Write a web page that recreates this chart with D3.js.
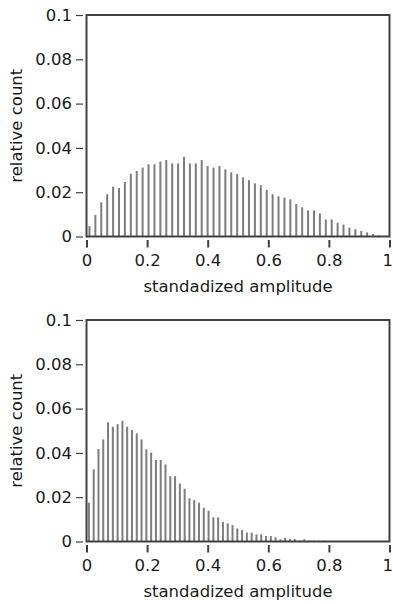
<!DOCTYPE html>
<html lang="en">
<head>
<meta charset="utf-8">
<title>Amplitude histograms</title>
<script src="https://d3js.org/d3.v7.min.js"></script>
<style>
  body { margin: 0; background: #fff; }
  svg { display: block; }
  text { font-family: "DejaVu Sans", sans-serif; fill: #1a1a1a; }
</style>
</head>
<body>
<div id="chart"></div>
<script>
// relative count per bin (50 bins each)
var topCounts = [
  0.0047, 0.0097, 0.0154, 0.0191, 0.0225, 0.0219, 0.0246, 0.0283, 0.0296, 0.0311,
  0.0326, 0.0326, 0.0338, 0.0345, 0.0330, 0.0330, 0.0360, 0.0330, 0.0330, 0.0345,
  0.0318, 0.0311, 0.0318, 0.0303, 0.0290, 0.0282, 0.0267, 0.0254, 0.0240, 0.0232,
  0.0210, 0.0191, 0.0181, 0.0175, 0.0168, 0.0147, 0.0132, 0.0118, 0.0118, 0.0104,
  0.0077, 0.0077, 0.0062, 0.0054, 0.0040, 0.0033, 0.0025, 0.0019, 0.0011, 0.0004
]
var bottomCounts = [
  0.0175, 0.0326, 0.0417, 0.0461, 0.0538, 0.0518, 0.0530, 0.0545, 0.0518, 0.0503,
  0.0488, 0.0461, 0.0416, 0.0401, 0.0368, 0.0368, 0.0348, 0.0295, 0.0295, 0.0262,
  0.0238, 0.0195, 0.0187, 0.0175, 0.0152, 0.0139, 0.0109, 0.0109, 0.0089, 0.0082,
  0.0074, 0.0059, 0.0052, 0.0040, 0.0040, 0.0032, 0.0032, 0.0025, 0.0025, 0.0019,
  0.0010, 0.0017, 0.0011, 0.0011, 0.0004, 0.0010, 0.0004, 0.0004, 0.0004, 0.0004
]
// bin widths (in standardized amplitude units)
var topBinWidth = 0.0195
var bottomBinWidth = 0.0158

var xTicks = [0, 0.2, 0.4, 0.6, 0.8, 1]
var yTicks = [0, 0.02, 0.04, 0.06, 0.08, 0.1]
var xTitle = "standadized amplitude"
var yTitle = "relative count"

var w = 393
var h = 604

var svg = d3.select("#chart")
  .append("svg")
  .attr("width", w)
  .attr("height", h)

var xScale = d3.scaleLinear().domain([0, 1]).range([86.5, 389.5])
var fmt = function(d) { return d === 0 ? "0" : String(+d.toFixed(2)) }

function drawPanel(counts, binWidth, top) {
  var plotH = 221.5
  var yScale = d3.scaleLinear().domain([0, 0.1]).range([top + plotH, top])
  var g = svg.append("g")

  // bars
  g.selectAll("rect.bar")
    .data(counts)
    .enter()
    .append("rect")
    .attr("class", "bar")
    .attr("x", function(d, i) { return xScale(binWidth * (i + 0.5)) - 1 })
    .attr("width", 2)
    .attr("y", function(d) { return yScale(d) })
    .attr("height", function(d) { return yScale(0) - yScale(d) })
    .attr("fill", "#7d7d7d")

  // frame
  g.append("rect")
    .attr("x", xScale(0))
    .attr("y", yScale(0.1))
    .attr("width", xScale(1) - xScale(0))
    .attr("height", yScale(0) - yScale(0.1))
    .attr("fill", "none")
    .attr("stroke", "#404040")
    .attr("stroke-width", 2)

  // y axis, ticks sit a little off the frame
  var yAxis = g.append("g")
    .attr("transform", "translate(" + (xScale(0) - 3.5) + ",0)")
    .call(d3.axisLeft(yScale).tickValues(yTicks).tickFormat(fmt).tickSize(7).tickPadding(4))
  yAxis.select(".domain").remove()
  yAxis.selectAll(".tick line").attr("stroke", "#404040").attr("stroke-width", 1.2)
  yAxis.selectAll("text").attr("font-size", "16.5px").attr("font-family", null).attr("fill", "#1a1a1a")

  // x axis
  var xAxis = g.append("g")
    .attr("transform", "translate(0," + (yScale(0) + 3.5) + ")")
    .call(d3.axisBottom(xScale).tickValues(xTicks).tickFormat(fmt).tickSize(7.5).tickPadding(7))
  xAxis.select(".domain").remove()
  xAxis.selectAll(".tick line").attr("stroke", "#404040").attr("stroke-width", 2)
  xAxis.selectAll("text").attr("font-size", "16.5px").attr("font-family", null).attr("fill", "#1a1a1a")
  // keep the "1" inside the page edge
  xAxis.selectAll(".tick text")
    .filter(function(d) { return d === 1 })
    .attr("text-anchor", "end")
    .attr("dx", "3")

  // titles
  g.append("text")
    .attr("x", (xScale(0) + xScale(1)) / 2)
    .attr("y", yScale(0) + 55)
    .attr("text-anchor", "middle")
    .attr("font-size", "16.5px")
    .text(xTitle)

  g.append("text")
    .attr("transform", "translate(22," + (top + plotH / 2) + ") rotate(-90)")
    .attr("text-anchor", "middle")
    .attr("font-size", "16.5px")
    .text(yTitle)
}

drawPanel(topCounts, topBinWidth, 15)
drawPanel(bottomCounts, bottomBinWidth, 320)
</script>
</body>
</html>
